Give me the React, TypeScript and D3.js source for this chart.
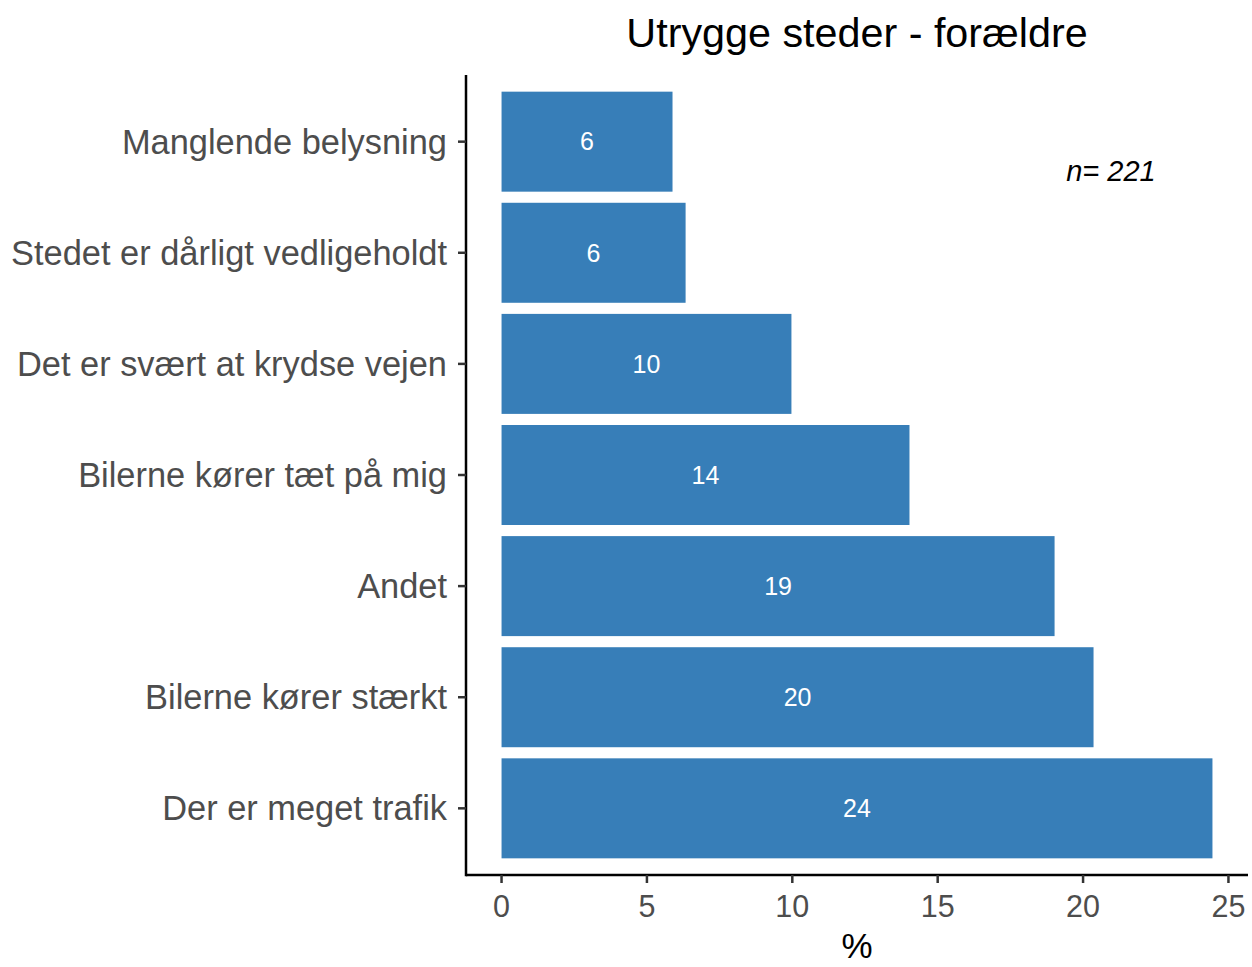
import * as d3 from "d3";
import React from "react";
import { useEffect, useRef } from "react";

// categories top to bottom
const categories = [
    "Manglende belysning",
    "Stedet er dårligt vedligeholdt",
    "Det er svært at krydse vejen",
    "Bilerne kører tæt på mig",
    "Andet",
    "Bilerne kører stærkt",
    "Der er meget trafik",
];
const values = [5.88, 6.33, 9.97, 14.03, 19.02, 20.36, 24.45];
const xTicks = [0, 5, 10, 15, 20, 25];
const title = "Utrygge steder - forældre";
const nLabel = "n= 221";

function drawChart(node: SVGSVGElement) {
    const width = 1252;
    const height = 967;
    const margin = { top: 75, right: 4, bottom: 92, left: 466 };
    const font = "'Liberation Sans', Arial, Helvetica, sans-serif";

    const svg = d3.select(node)
        .attr("width", width)
        .attr("height", height)
        .attr("viewBox", `0 0 ${width} ${height}`);
    svg.selectAll("*").remove();

    svg.append("rect").attr("width", width).attr("height", height).attr("fill", "#fff");

    const maxV = d3.max(values) as number;
    const pad = maxV * 0.05;
    const x = d3.scaleLinear()
        .domain([-pad, maxV + pad])
        .range([margin.left, width - margin.right]);

    // ggplot-ish discrete expansion of 0.6 on each side
    const n = categories.length;
    const step = (height - margin.bottom - margin.top) / (n - 1 + 1.2);
    const yc = (i: number) => margin.top + step * (0.6 + i);
    const barH = step * 0.9;

    const data = categories.map((c, i) => ({ c, v: values[i], i }));

    svg.selectAll(".bar")
        .data(data)
        .enter().append("rect")
        .attr("class", "bar")
        .attr("x", x(0))
        .attr("y", (d) => yc(d.i) - barH / 2)
        .attr("width", (d) => x(d.v) - x(0))
        .attr("height", barH)
        .attr("fill", "#377EB8");

    svg.selectAll(".val")
        .data(data)
        .enter().append("text")
        .attr("class", "val")
        .attr("x", (d) => (x(0) + x(d.v)) / 2)
        .attr("y", (d) => yc(d.i))
        .attr("dy", "0.35em")
        .attr("text-anchor", "middle")
        .style("font", `25px ${font}`)
        .attr("fill", "#fff")
        .text((d) => Math.round(d.v));

    // axes
    const axisBottom = height - margin.bottom;
    svg.append("line")
        .attr("x1", margin.left).attr("x2", width - margin.right)
        .attr("y1", axisBottom).attr("y2", axisBottom)
        .attr("stroke", "#000").attr("stroke-width", 2.5);
    svg.append("line")
        .attr("x1", margin.left).attr("x2", margin.left)
        .attr("y1", margin.top).attr("y2", axisBottom + 1.25)
        .attr("stroke", "#000").attr("stroke-width", 2.5);

    // x ticks
    const xt = svg.selectAll(".xt").data(xTicks).enter().append("g").attr("class", "xt");
    xt.append("line")
        .attr("x1", (d) => x(d)).attr("x2", (d) => x(d))
        .attr("y1", axisBottom).attr("y2", axisBottom + 8)
        .attr("stroke", "#333").attr("stroke-width", 2.5);
    xt.append("text")
        .attr("x", (d) => x(d))
        .attr("y", axisBottom + 42)
        .attr("text-anchor", "middle")
        .style("font", `30.5px ${font}`)
        .attr("fill", "#4d4d4d")
        .text((d) => d);

    // y ticks
    const yt = svg.selectAll(".yt").data(data).enter().append("g").attr("class", "yt");
    yt.append("line")
        .attr("x1", margin.left - 8).attr("x2", margin.left)
        .attr("y1", (d) => yc(d.i)).attr("y2", (d) => yc(d.i))
        .attr("stroke", "#333").attr("stroke-width", 2.5);
    yt.append("text")
        .attr("x", margin.left - 19)
        .attr("y", (d) => yc(d.i))
        .attr("dy", "0.35em")
        .attr("text-anchor", "end")
        .style("font", `34.4px ${font}`)
        .attr("fill", "#4d4d4d")
        .text((d) => d.c);

    // x axis title
    svg.append("text")
        .attr("x", (margin.left + width - margin.right) / 2)
        .attr("y", 958)
        .attr("text-anchor", "middle")
        .style("font", `35px ${font}`)
        .attr("fill", "#000")
        .text("%");

    // title
    svg.append("text")
        .attr("x", (margin.left + width - margin.right) / 2)
        .attr("y", 47)
        .attr("text-anchor", "middle")
        .style("font", `41.3px ${font}`)
        .attr("fill", "#000")
        .text(title);

    // n label
    svg.append("text")
        .attr("x", 1111)
        .attr("y", 181)
        .attr("text-anchor", "middle")
        .style("font", `italic 29px ${font}`)
        .attr("fill", "#000")
        .text(nLabel);
}

export default function App() {
    const svg = useRef<SVGSVGElement>(null);
    useEffect(() => {
        if (svg.current) drawChart(svg.current);
    });

    return (
        <div style={{ position: "absolute", left: 0, top: 0 }}>
            <svg ref={svg} style={{ display: "block" }}></svg>
        </div>
    );
}
